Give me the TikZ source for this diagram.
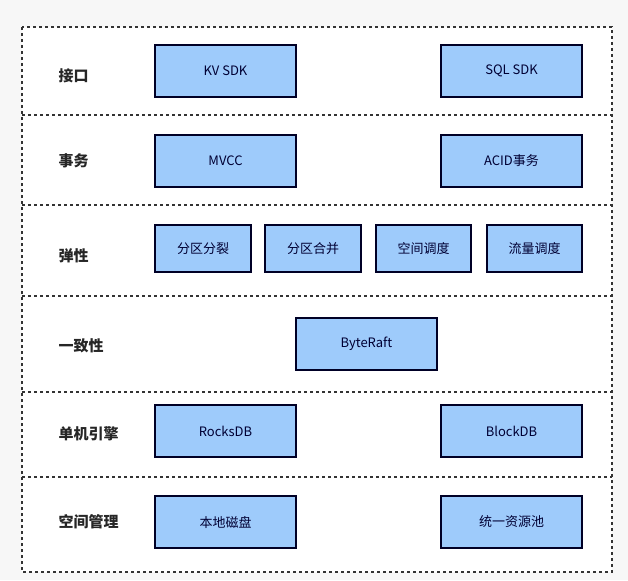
\documentclass[tikz,border=0pt]{standalone}
\usepackage{fontspec}
\setmainfont{Noto Sans CJK SC}
\begin{document}
\begin{tikzpicture}[x=1pt,y=-1pt,
  box/.style={draw=black!85!blue,line width=1.6pt,fill=blue!35!cyan!25!white,fill={rgb,255:red,158;green,203;blue,251},text=black!80!blue,font=\fontsize{13}{15}\selectfont,inner sep=0pt},
  lbl/.style={anchor=west,font=\fontsize{15}{17}\selectfont\bfseries,text=black!85},
  dsh/.style={line width=1.5pt,dash pattern=on 3pt off 3pt,black!80}]
\fill[black!3] (0,0) rectangle (628,580);
\useasboundingbox (0,0) rectangle (628,580);
\fill[white] (22,27) rectangle (612,572);
\draw[dsh] (22,27) rectangle (612,572);
\foreach \y in {115,205,296,392,477} \draw[dsh] (22,\y) -- (612,\y);
\newcommand{\bx}[6]{\node[box,minimum width={#4-#2},minimum height={#5-#3}] (#1) at ({(#2+#4)/2},{(#3+#5)/2}) {#6};}
\node[lbl] (l1) at (55,76) {接口};
\node[lbl] (l2) at (55,161) {事务};
\node[lbl] (l3) at (55,256) {弹性};
\node[lbl] (l4) at (55,346) {一致性};
\node[lbl] (l5) at (55,434) {单机引擎};
\node[lbl] (l6) at (55,522) {空间管理};
\bx{kv}{155}{45}{296}{97}{KV SDK}
\bx{sql}{441}{45}{582}{97}{SQL SDK}
\bx{mvcc}{155}{135}{296}{187}{MVCC}
\bx{acid}{441}{135}{582}{187}{ACID事务}
\bx{a}{155}{225}{251}{272}{分区分裂}
\bx{b}{265}{225}{361}{272}{分区合并}
\bx{c}{376}{225}{471}{272}{空间调度}
\bx{d}{487}{225}{582}{272}{流量调度}
\bx{raft}{296}{318}{437}{370}{ByteRaft}
\bx{rocks}{155}{405}{296}{457}{RocksDB}
\bx{block}{441}{405}{582}{457}{BlockDB}
\bx{disk}{155}{496}{296}{548}{本地磁盘}
\bx{pool}{441}{496}{582}{548}{统一资源池}
\end{tikzpicture}
\end{document}
